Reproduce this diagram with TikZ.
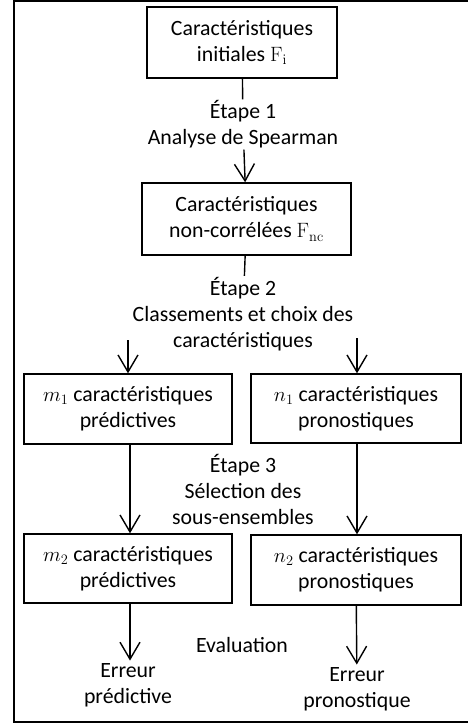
\documentclass[tikz,border=0pt]{standalone}
\usepackage[no-math]{fontspec}
\setmainfont{Carlito}
\usetikzlibrary{arrows.meta}

\begin{document}
\begin{tikzpicture}[x=1pt,y=1pt,font=\fontsize{21.8pt}{26pt}\selectfont,
  box/.style={draw,line width=1.4pt,align=center,inner sep=0pt},
  etape/.style={align=center,inner xsep=3pt,inner ysep=1pt},
  fl/.style={line width=1.4pt,-{Straight Barb[length=17pt,width=20pt,line width=1.4pt]}}]
   \useasboundingbox (0,0) rectangle (468,-724);
   \draw[line width=2.2pt] (14,-1) rectangle (480,-722);
%
       \node [box,minimum width=190pt,minimum height=71pt] at (242,-42.5) (fi) {Caractéristiques\\initiales $\mathrm{F}_{\mathrm{i}}$};
       \node [etape] at (243,-124.5) (lab1) {Étape 1\\Analyse de Spearman};
       \node [box,minimum width=209pt,minimum height=72pt] at (246.5,-219) (fnc) {Caractéristiques\\non-corrélées $\mathrm{F}_{\mathrm{nc}}$};
       \node [etape] at (243,-314) (lab2) {Étape 2\\Classements et choix des\\caractéristiques};
          \coordinate (a2l) at (128,-340);
          \coordinate (a2r) at (357,-338);
       \node [box,minimum width=208pt,minimum height=70pt] at (128,-409) (pm1) {$m_1$ caractéristiques\\prédictives};
       \node [box,minimum width=210pt,minimum height=69pt] at (356,-408.5) (pn1) {$n_1$ caractéristiques\\pronostiques};
       \node [etape] at (243,-489) (lab3) {Étape 3\\Sélection des\\sous-ensembles};
       \node [box,minimum width=208pt,minimum height=69pt] at (128,-568.5) (pm2) {$m_2$ caractéristiques\\prédictives};
       \node [box,minimum width=210pt,minimum height=70pt] at (356,-570) (pn2) {$n_2$ caractéristiques\\pronostiques};
       \node [etape] at (242,-645) (eval) {Evaluation};
       \node [etape,inner ysep=3pt] at (128,-685.5) (errp) {Erreur\\prédictive};
       \node [etape,inner ysep=3pt] at (357,-689.5) (errn) {Erreur\\pronostique};
%
%
\draw[line width=1.4pt] (fi) -- (lab1);
\draw[fl] (lab1) -- (fnc);
\draw[line width=1.4pt] (fnc) -- (lab2);
\draw[fl] (a2l) -- (pm1.north -| a2l);
\draw[fl] (a2r) -- (pn1.north -| a2r);
\draw[fl] (pm1.south -| 130,0) -- (pm2.north -| 130,0);
\draw[fl] (pn1.south -| 357,0) -- (pn2.north -| 357,0);
\draw[fl] (pm2.south -| 130,0) -- (errp.north -| 130,0);
\draw[fl] (pn2) -- (errn);

\end{tikzpicture}
\end{document}
